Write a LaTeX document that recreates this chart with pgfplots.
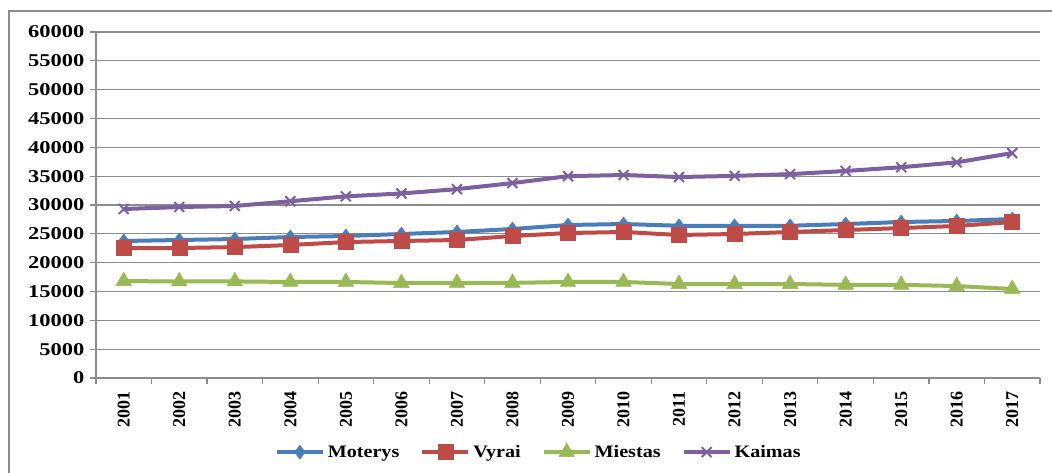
\documentclass[border=0pt]{standalone}
\usepackage{pgfplots}
\pgfplotsset{compat=1.18}
\usepackage{graphicx}
\usepackage{fontspec}
\setmainfont{Liberation Serif}
\definecolor{cblue}{HTML}{4A7EBB}
\definecolor{cred}{HTML}{BE4B48}
\definecolor{cgreen}{HTML}{98B954}
\definecolor{cpurple}{HTML}{7D60A0}
\definecolor{gridgray}{HTML}{8C8C8C}
\newcommand{\legtxt}[1]{\scalebox{1.15}[1]{#1}}
\begin{document}
\begin{tikzpicture}[x=1pt,y=1pt]
\clip (0,0) rectangle (1052,472);
\useasboundingbox (0,0) rectangle (1052,472);
\draw[gridgray, line width=1.2pt] (9,-10) rectangle (1070,461);
\begin{axis}[
  at={(96pt,94pt)}, anchor=south west,
  width=944pt, height=346pt, scale only axis,
  xmin=-0.5, xmax=16.5, ymin=0, ymax=60000,
  xtick={0,...,16},
  xticklabels={2001,2002,2003,2004,2005,2006,2007,2008,2009,2010,2011,2012,2013,2014,2015,2016,2017},
  minor xtick={-0.5,0.5,...,16.5},
  major x tick style={draw=none},
  minor tick length=6pt,
  ytick={0,5000,...,60000},
  major tick length=6pt,
  tick align=outside,
  tick style={gridgray, line width=1.2pt},
  ymajorgrids, grid style={gridgray, line width=1.2pt},
  axis x line*=bottom, axis y line*=left,
  axis line style={gridgray, line width=1.5pt, -},
  scaled y ticks=false,
  yticklabel={\scalebox{1.25}[1]{\bfseries\pgfmathprintnumber[assume math mode=true,1000 sep={}]{\tick}}},
  y tick label style={font=\fontsize{18}{20}\selectfont\bfseries, xshift=-2pt},
  x tick label style={font=\fontsize{18}{20}\selectfont\bfseries, rotate=90, anchor=east},
  xticklabel shift=4pt,
  legend columns=4,
  legend style={draw=none, fill=none, at={(0.469,-0.214)}, anchor=center,
    font=\fontsize{17.5}{19}\selectfont\bfseries, column sep=1pt,
    /tikz/every even column/.append style={column sep=19pt}},
  legend image code/.code={\draw[#1] (0pt,0pt) -- (23pt,0pt) -- (46pt,0pt); \draw[#1, mark repeat=2, mark phase=2] plot coordinates {(0pt,0pt) (23pt,0pt) (46pt,0pt)};},
  every axis plot/.append style={line width=4pt},
  clip=false,
]
\addplot[cblue, mark=diamond*, mark size=7pt, mark options={solid, line width=0.5pt}] coordinates {
(0,23760) (1,23930) (2,24100) (3,24450) (4,24620) (5,24970) (6,25320) (7,25840) (8,26530) (9,26700) (10,26400) (11,26400) (12,26400) (13,26700) (14,27050) (15,27230) (16,27570)};
\addlegendentry{\legtxt{Moterys}}
\addplot[cred, mark=square*, mark size=7.5pt, mark options={solid, line width=0.5pt}] coordinates {
(0,22540) (1,22540) (2,22700) (3,23060) (4,23580) (5,23760) (6,23930) (7,24620) (8,25140) (9,25320) (10,24800) (11,24970) (12,25320) (13,25660) (14,26000) (15,26360) (16,27050)};
\addlegendentry{\legtxt{Vyrai}}
\addplot[cgreen, mark=triangle*, mark size=9pt, mark options={solid, line width=0.5pt}] coordinates {
(0,16800) (1,16750) (2,16750) (3,16650) (4,16650) (5,16470) (6,16500) (7,16500) (8,16650) (9,16650) (10,16300) (11,16300) (12,16300) (13,16150) (14,16150) (15,15950) (16,15430)};
\addlegendentry{\legtxt{Miestas}}
\addplot[cpurple, mark=x, mark size=7pt, mark options={solid, line width=2pt}] coordinates {
(0,29300) (1,29650) (2,29830) (3,30650) (4,31500) (5,32000) (6,32750) (7,33800) (8,35000) (9,35200) (10,34850) (11,35050) (12,35350) (13,35900) (14,36550) (15,37400) (16,39000)};
\addlegendentry{\legtxt{Kaimas}}
\end{axis}
\end{tikzpicture}
\end{document}
